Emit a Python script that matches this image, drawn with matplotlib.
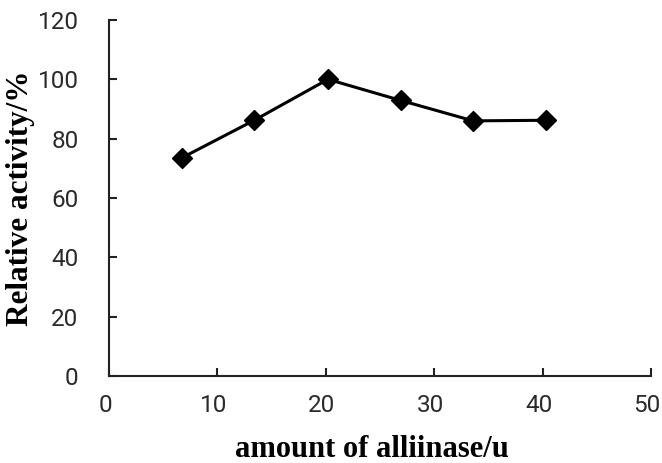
import matplotlib
matplotlib.use("Agg")
import matplotlib.pyplot as plt
from matplotlib.transforms import ScaledTranslation

# enzyme amount (u) vs relative activity (%)
amount = [6.7, 13.4, 20.2, 26.9, 33.6, 40.3]
activity = [73.5, 86.2, 100.0, 92.9, 86.0, 86.2]
xticks = [0, 10, 20, 30, 40, 50]
yticks = [0, 20, 40, 60, 80, 100, 120]

tick_font = ['Roboto', 'DejaVu Sans']
label_font = ['Liberation Serif', 'DejaVu Serif']

fig = plt.figure(figsize=(6.62, 4.63), dpi=100)
ax = fig.add_axes([109/662, 1 - 376/463, 542/662, 356/463])

ax.plot(amount, activity, color='black', lw=2.2, marker='D', ms=10.5,
        mfc='black', mec='black', clip_on=False)

ax.set_xlim(0, 50)
ax.set_ylim(0, 120)
ax.set_xticks(xticks)
ax.set_yticks(yticks)

for s in ['top', 'right']:
    ax.spines[s].set_visible(False)
for s in ['left', 'bottom']:
    ax.spines[s].set_linewidth(1.5)
    ax.spines[s].set_color('#222222')

ax.tick_params(axis='both', direction='in', length=6, width=1.5, color='#222222')
ax.tick_params(axis='x', pad=13)
ax.tick_params(axis='y', pad=22)
for lab in ax.get_xticklabels() + ax.get_yticklabels():
    lab.set_family(tick_font)
    lab.set_fontsize(17.5)
    lab.set_color('#2a2a2a')

# x labels sit a few px left of their ticks in the original
shift = ScaledTranslation(-4/100, 0, fig.dpi_scale_trans)
for lab in ax.get_xticklabels():
    lab.set_transform(lab.get_transform() + shift)

fig.text(372/662, 1 - 457/463, 'amount of alliinase/u', ha='center', va='baseline',
         family=label_font, fontweight='bold', fontsize=22)
fig.text(21/662, 1 - 198/463, 'Relative activity/%', ha='center', va='center',
         rotation=90, family=label_font, fontweight='bold', fontsize=22.5)

fig.savefig('out.png', dpi=100)
